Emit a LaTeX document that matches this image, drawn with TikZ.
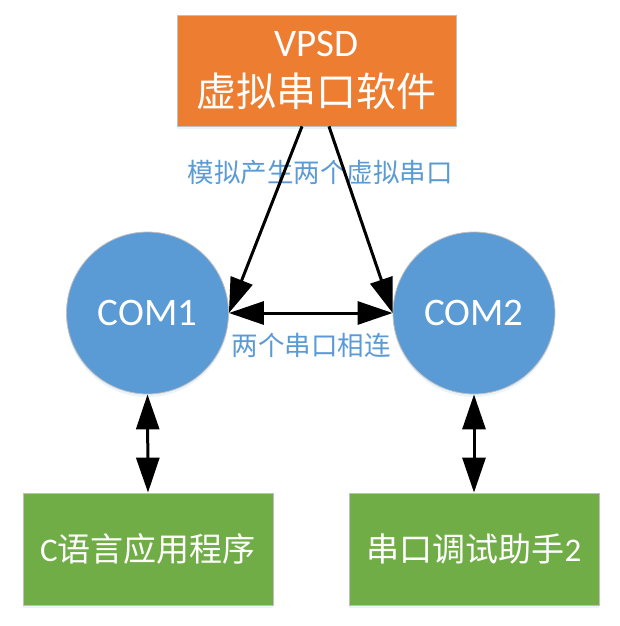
\documentclass[tikz,border=0pt]{standalone}
\usepackage{fontspec}
\setmainfont{Carlito}
\newfontfamily\cjk{Noto Sans CJK SC}
\usetikzlibrary{arrows.meta,shadows}
\definecolor{orng}{HTML}{ED7D31}
\definecolor{blu}{HTML}{5B9BD5}
\definecolor{grn}{HTML}{70AD47}
\definecolor{bord}{HTML}{BFBFBF}
\definecolor{shd}{HTML}{BDD7EE}
\tikzset{
  shdw/.style={drop shadow={shadow xshift=0pt,shadow yshift=-3pt,fill=shd,opacity=0.3}},
  boxbase/.style={draw=bord,line width=0.8pt,text=white,align=center,inner sep=0pt,shdw},
  topbox/.style={boxbase,fill=orng,minimum width=279pt,minimum height=111pt,font=\fontsize{39pt}{50pt}\selectfont},
  combox/.style={boxbase,fill=blu,circle,minimum size=162pt,font=\fontsize{39pt}{44pt}\selectfont},
  appbox/.style={boxbase,fill=grn,minimum width=250pt,minimum height=112pt,font=\fontsize{33pt}{38pt}\selectfont},
  lbl/.style={text=blu,inner sep=0pt,font=\cjk\fontsize{26.5pt}{30pt}\selectfont},
  ahd/.tip={Triangle[length=35pt,width=23pt]},
  arr/.style={line width=3pt,ahd-ahd},
  sarr/.style={line width=3pt,-ahd},
}
\begin{document}
\begin{tikzpicture}[x=1pt,y=-1pt]
\useasboundingbox (0,0) rectangle (620,626);
\node[topbox] (vpsd) at (316.5,70.5) {VPSD\\{\cjk\fontsize{40pt}{50pt}\selectfont 虚拟串口软件}};
\node[combox] (com1) at (147.5,313) {COM1};
\node[combox] (com2) at (474,313) {COM2};
\node[appbox] (app) at (148,549) {C{\cjk 语言应用程序}};
\node[appbox] (tool) at (474,549) {{\cjk 串口调试助手}2};
\node[lbl] (l1) at (320,173) {模拟产生两个虚拟串口};
\node[lbl] (l2) at (311,345) {两个串口相连};
\draw[sarr] ([xshift=-14.5pt]vpsd.south) -- (com1.east);
\draw[sarr] ([xshift=12.5pt]vpsd.south) -- (com2.west);
\draw[arr] (com1.east) -- (com2.west);
\draw[arr] (com1.south) -- (app.north);
\draw[arr] (com2.south) -- (tool.north);
\end{tikzpicture}
\end{document}
